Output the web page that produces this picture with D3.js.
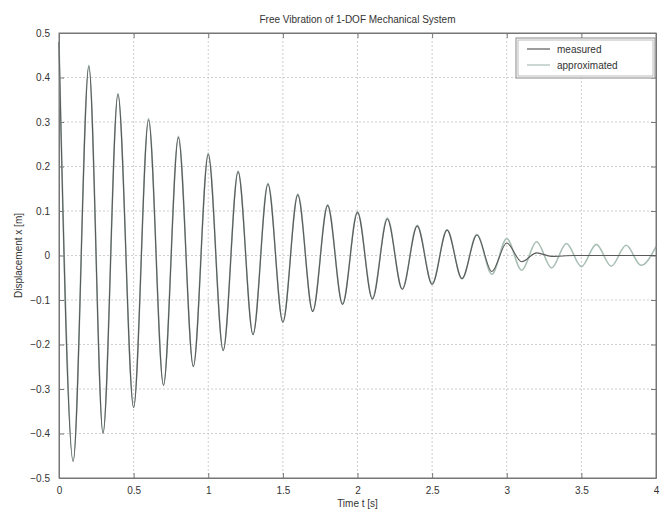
<!DOCTYPE html>
<html>
<head>
<meta charset="utf-8">
<script src="https://cdn.jsdelivr.net/npm/d3@7"></script>
<style>
  body { margin: 0; background: #fff; }
  text { font-family: "Liberation Sans", Arial, sans-serif; fill: #333; }
</style>
</head>
<body>
<svg width="672" height="515"></svg>
<script>
// extrema of the two signals (time in s, displacement in m)
var measuredT = [0, 0.095, 0.2, 0.295, 0.395, 0.5, 0.6, 0.7, 0.8, 0.9, 1.0, 1.1, 1.2, 1.3, 1.4, 1.5,
    1.6, 1.7, 1.8, 1.9, 2.0, 2.1, 2.2, 2.3, 2.4, 2.5, 2.6, 2.7, 2.8, 2.9, 3.0, 3.1, 3.2, 3.3, 3.45, 3.7, 4.0];
var measuredY = [0.48, -0.463, 0.425, -0.4, 0.362, -0.342, 0.305, -0.292, 0.265, -0.25, 0.227, -0.214, 0.188, -0.178, 0.16, -0.15,
    0.136, -0.126, 0.112, -0.11, 0.097, -0.098, 0.082, -0.076, 0.066, -0.065, 0.057, -0.052, 0.046, -0.036, 0.028, -0.014, 0.006, -0.002, 0, 0, 0];

var approxT = [0, 0.095, 0.2, 0.295, 0.395, 0.5, 0.6, 0.7, 0.8, 0.9, 1.0, 1.1, 1.2, 1.3, 1.4, 1.5,
    1.6, 1.7, 1.8, 1.9, 2.0, 2.1, 2.2, 2.3, 2.4, 2.5, 2.6, 2.7, 2.8, 2.9, 3.0, 3.1, 3.2, 3.3, 3.4, 3.5, 3.6, 3.7, 3.8, 3.9, 4.0];
var approxY = [0.48, -0.46, 0.428, -0.398, 0.364, -0.34, 0.308, -0.29, 0.268, -0.248, 0.23, -0.212, 0.19, -0.176, 0.162, -0.148,
    0.138, -0.125, 0.114, -0.108, 0.099, -0.096, 0.084, -0.075, 0.068, -0.063, 0.058, -0.052, 0.047, -0.042, 0.038, -0.033, 0.031, -0.028, 0.027, -0.025, 0.025, -0.024, 0.023, -0.022, 0.02];

var xTicks = [0, 0.5, 1, 1.5, 2, 2.5, 3, 3.5, 4];
var yTicks = [-0.5, -0.4, -0.3, -0.2, -0.1, 0, 0.1, 0.2, 0.3, 0.4, 0.5];

var svg = d3.select("svg");
var pLeft = 59, pRight = 656, pTop = 33, pBottom = 478;

var x = d3.scaleLinear().domain([0, 4]).range([pLeft, pRight]);
var y = d3.scaleLinear().domain([-0.5, 0.5]).range([pBottom, pTop]);

// grid
svg.append("g").selectAll("line")
    .data(xTicks.slice(1, -1))
    .enter().append("line")
    .attr("x1", function (d) { return x(d); })
    .attr("x2", function (d) { return x(d); })
    .attr("y1", pTop).attr("y2", pBottom)
    .attr("stroke", "#cfcfcf").attr("stroke-dasharray", "2,2");
svg.append("g").selectAll("line")
    .data(yTicks.slice(1, -1))
    .enter().append("line")
    .attr("y1", function (d) { return y(d); })
    .attr("y2", function (d) { return y(d); })
    .attr("x1", pLeft).attr("x2", pRight)
    .attr("stroke", "#cfcfcf").attr("stroke-dasharray", "2,2");

// axes, matlab style (ticks inside, all four sides)
svg.append("g")
    .attr("transform", "translate(0," + pBottom + ")")
    .call(d3.axisBottom(x).tickValues(xTicks).tickSizeInner(-5).tickSizeOuter(0).tickPadding(9).tickFormat(d3.format("")));
svg.append("g")
    .attr("transform", "translate(0," + pTop + ")")
    .call(d3.axisTop(x).tickValues(xTicks).tickSizeInner(-5).tickSizeOuter(0).tickFormat(""));
svg.append("g")
    .attr("transform", "translate(" + pLeft + ",0)")
    .call(d3.axisLeft(y).tickValues(yTicks).tickSizeInner(-5).tickSizeOuter(0).tickPadding(9).tickFormat(d3.format("")));
svg.append("g")
    .attr("transform", "translate(" + pRight + ",0)")
    .call(d3.axisRight(y).tickValues(yTicks).tickSizeInner(-5).tickSizeOuter(0).tickFormat(""));

svg.selectAll(".domain").attr("stroke", "#777");
svg.selectAll(".tick line").attr("stroke", "#777");
svg.selectAll(".tick text").attr("font-size", "10px").attr("fill", "#333")
    .style("font-family", "'Liberation Sans', Arial, sans-serif");

// curves
var line = d3.line().curve(d3.curveMonotoneX)
    .x(function (d) { return x(d[0]); })
    .y(function (d) { return y(d[1]); });

svg.append("path")
    .datum(d3.zip(approxT, approxY))
    .attr("d", line)
    .attr("fill", "none")
    .attr("stroke", "#a8bfb4")
    .attr("stroke-width", 1.6);

svg.append("path")
    .datum(d3.zip(measuredT, measuredY))
    .attr("d", line)
    .attr("fill", "none")
    .attr("stroke", "#5a5a5a")
    .attr("stroke-width", 1.1);

// box
svg.append("rect")
    .attr("x", pLeft).attr("y", pTop)
    .attr("width", pRight - pLeft).attr("height", pBottom - pTop)
    .attr("fill", "none").attr("stroke", "#777");

// titles
svg.append("text")
    .attr("x", (pLeft + pRight) / 2).attr("y", 23)
    .attr("text-anchor", "middle").attr("font-size", "10px")
    .text("Free Vibration of 1-DOF Mechanical System");
svg.append("text")
    .attr("x", (pLeft + pRight) / 2).attr("y", 507)
    .attr("text-anchor", "middle").attr("font-size", "10px")
    .text("Time t [s]");
svg.append("text")
    .attr("transform", "translate(22," + (pTop + pBottom) / 2 + ") rotate(-90)")
    .attr("text-anchor", "middle").attr("font-size", "10px")
    .text("Displacement x [m]");

// legend
var lg = svg.append("g");
lg.append("rect").attr("x", 516).attr("y", 38).attr("width", 139).attr("height", 40)
    .attr("fill", "#fff").attr("stroke", "#888");
lg.append("rect").attr("x", 518).attr("y", 40).attr("width", 135).attr("height", 36)
    .attr("fill", "none").attr("stroke", "#bbb");
var names = ["measured", "approximated"];
var cols = ["#5a5a5a", "#a8bfb4"];
names.forEach(function (n, i) {
    lg.append("line").attr("x1", 527).attr("x2", 550)
        .attr("y1", 49 + i * 16).attr("y2", 49 + i * 16)
        .attr("stroke", cols[i]).attr("stroke-width", 1.2);
    lg.append("text").attr("x", 557).attr("y", 52.5 + i * 16)
        .attr("font-size", "10px").text(n);
});
</script>
</body>
</html>
